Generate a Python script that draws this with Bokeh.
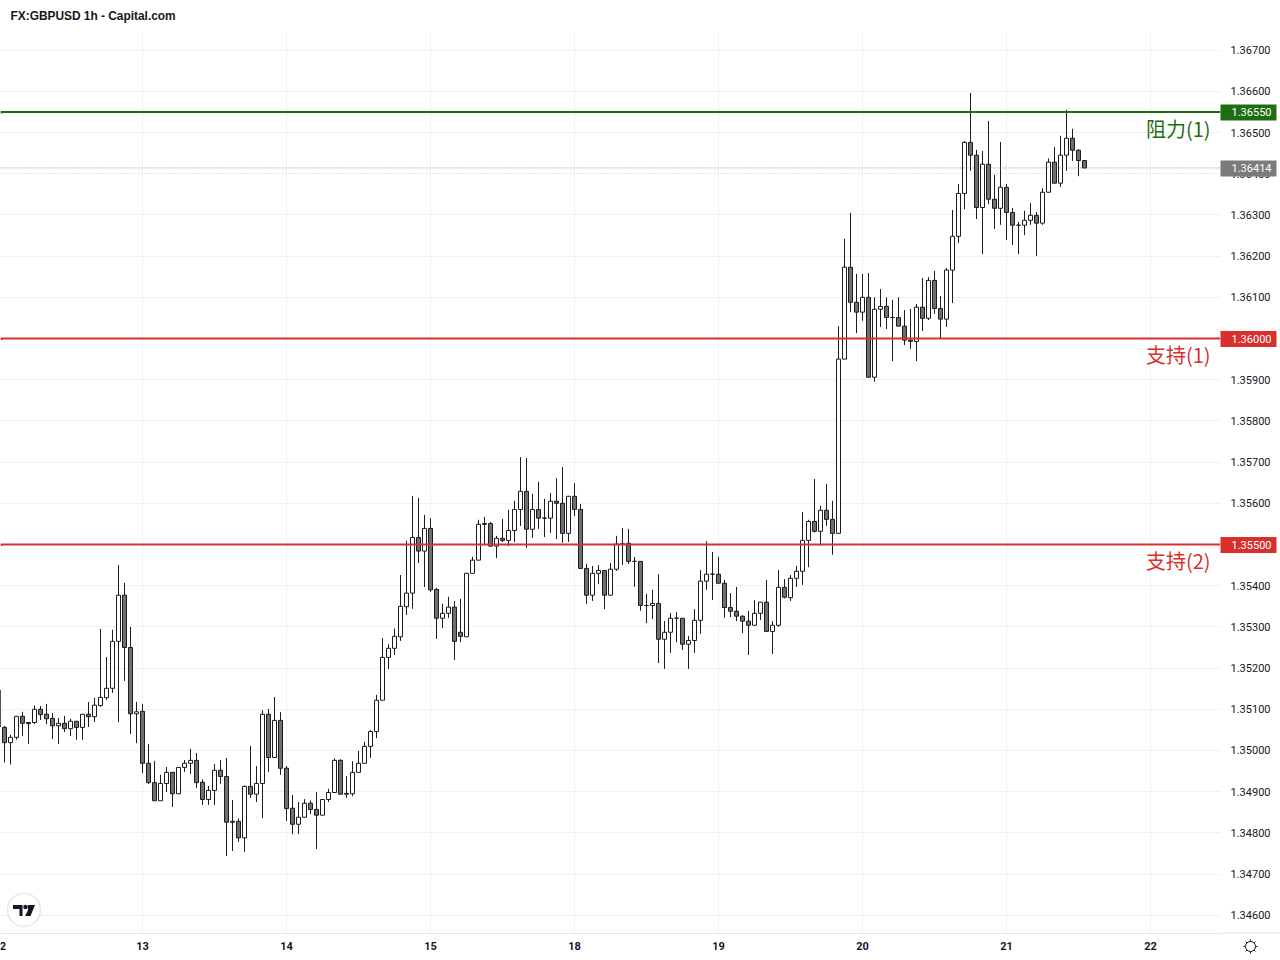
import numpy as np
from bokeh.plotting import figure
from bokeh.layouts import column
from bokeh.core.properties import value
from bokeh.models import (ColumnDataSource, FixedTicker, Span, Range1d, NumeralTickFormatter)
from bokeh.embed import file_html
from bokeh.resources import INLINE

opens = [135147,135056,135019,135032,135083,135068,135068,135100,135088,135078,
135060,135066,135053,135071,135056,135088,135082,135109,135128,135151,
135265,135377,135250,135089,135095,134969,134922,134878,134920,134947,
134895,134959,134969,134976,134923,134881,134903,134952,134937,134828,
134828,134788,134913,134894,134920,135088,134983,135073,134957,134860,
134821,134838,134872,134857,134843,134881,134898,134976,134896,134895,
134947,134969,135010,135046,135122,135226,135248,135276,135349,135382,
135517,135484,135539,135391,135321,135333,135348,135287,135276,135430,
135462,135551,135551,135496,135515,135510,135534,135585,135629,135537,
135585,135564,135564,135605,135600,135527,135617,135585,135442,135377,
135430,135437,135377,135440,135502,135503,135459,135459,135352,135352,
135357,135270,135287,135321,135321,135258,135267,135316,135411,135428,
135428,135406,135347,135338,135326,135314,135304,135333,135360,135289,
135304,135396,135371,135418,135435,135510,135556,135532,135583,135561,
135527,135950,136173,136088,136064,136100,135906,136071,136078,136051,
136051,136030,135996,135993,136076,136049,136141,136073,136047,136166,
136248,136352,136476,136445,136318,136423,136338,136316,136367,136306,
136275,136275,136287,136299,136280,136355,136428,136377,136445,136486,
136457,136432]
highs = [135147,135060,135038,135083,135094,135068,135109,135108,135113,135091,
135079,135084,135077,135071,135088,135118,135128,135295,135227,135293,
135450,135407,135300,135118,135113,135016,134975,134941,134960,134947,
134959,134977,135004,134994,134930,134914,134967,134977,134982,134880,
134835,134915,135011,134962,135098,135101,135130,135093,134962,134892,
134875,134882,134879,134899,134881,134907,134981,134979,134938,134974,
134999,135021,135050,135135,135273,135258,135296,135426,135509,135618,
135613,135572,135564,135395,135356,135373,135363,135368,135431,135470,
135560,135567,135555,135521,135562,135584,135606,135712,135710,135623,
135652,135611,135625,135661,135688,135618,135649,135598,135453,135448,
135450,135437,135455,135521,135540,135538,135470,135459,135380,135390,
135428,135314,135334,135336,135321,135278,135343,135438,135508,135482,
135470,135414,135382,135397,135328,135339,135365,135360,135414,135314,
135438,135416,135426,135448,135579,135560,135659,135594,135647,135606,
136030,136242,136305,136157,136157,136159,136100,136120,136100,136094,
136100,136069,136072,136084,136147,136149,136164,136103,136171,136312,
136375,136479,136596,136458,136455,136528,136397,136477,136375,136317,
136283,136310,136329,136307,136365,136437,136465,136492,136555,136509,
136459,136433]
lows = [135057,134971,134966,135026,135035,135016,135064,135074,135064,135028,
135016,135045,135035,135026,135026,135057,135069,135106,135123,135140,
135069,135169,135040,135018,134945,134919,134878,134878,134899,134863,
134895,134948,134943,134909,134868,134868,134868,134919,134744,134756,
134778,134754,134885,134875,134836,134948,134983,134941,134829,134797,
134797,134838,134846,134761,134843,134875,134898,134894,134885,134889,
134947,134969,134982,135030,135122,135198,135232,135266,135329,135344,
135455,135397,135385,135271,135297,135322,135220,135263,135276,135430,
135462,135500,135496,135467,135506,135496,135506,135545,135492,135516,
135538,135518,135528,135513,135504,135506,135569,135442,135356,135363,
135404,135343,135377,135436,135450,135453,135397,135339,135309,135319,
135212,135198,135237,135263,135244,135198,135237,135283,135390,135365,
135406,135322,135324,135314,135285,135232,135304,135317,135289,135234,
135300,135369,135363,135397,135402,135445,135529,135497,135545,135475,
135527,135950,136064,136013,136043,135906,135895,136028,136023,135945,
136030,135984,135975,135945,136018,136045,136060,135999,136028,136086,
136232,136314,136407,136290,136205,136326,136266,136276,136239,136227,
136205,136251,136276,136200,136276,136355,136377,136368,136407,136431,
136394,136413]
closes = [135057,135019,135032,135083,135066,135065,135100,135087,135077,135060,
135066,135053,135071,135056,135088,135082,135110,135129,135151,135265,
135377,135250,135089,135094,134969,134922,134878,134920,134947,134895,
134959,134969,134976,134922,134881,134903,134952,134937,134826,134826,
134788,134913,134894,134920,135088,134983,135073,134957,134859,134821,
134838,134872,134857,134843,134881,134898,134976,134894,134894,134947,
134969,135010,135046,135122,135226,135248,135277,135350,135382,135517,
135484,135539,135390,135321,135333,135348,135265,135277,135430,135462,
135549,135549,135496,135515,135510,135534,135585,135629,135537,135585,
135564,135564,135605,135600,135527,135617,135585,135442,135377,135430,
135437,135377,135440,135501,135501,135459,135459,135352,135352,135357,
135270,135287,135321,135321,135258,135267,135316,135411,135428,135428,
135406,135347,135338,135326,135314,135304,135333,135360,135289,135304,
135396,135372,135418,135435,135510,135556,135532,135583,135561,135527,
135950,136173,136088,136064,136100,135906,136071,136078,136051,136051,
136030,135996,135993,136076,136049,136141,136073,136047,136166,136248,
136352,136476,136445,136318,136423,136338,136316,136367,136306,136275,
136275,136287,136299,136280,136355,136428,136377,136445,136486,136457,
136432,136414]

price_ticks = [1.346,1.347,1.348,1.349,1.350,1.351,1.352,1.353,1.354,1.355,1.356,
               1.357,1.358,1.359,1.360,1.361,1.362,1.363,1.364,1.365,1.366,1.367]
day_ticks = [23,47,71,95,119,143,167,191]
day_labels = ["13","14","15","18","19","20","21","22"]
resistance = 1.3655
support_1 = 1.36
support_2 = 1.355
last_price = 1.36414

GREEN = "#1e6e10"
RED = "#d9302e"
GREY = "#7b7b7b"
INK = "#1c1c1c"
GRID = "#f0f1f4"
TEXT = "#131722"

def PX(x):
    return (x - 4.5) / 6.0

def PY(y):
    return (136000 - (y - 338.5) * 2.4272) / 1e5

def ypx(price):
    return 338.5 + (1.36 - price) * 41200

n = len(opens)
idx = np.arange(-1, n - 1)
o, h, l, c = [np.array(a) / 1e5 for a in (opens, highs, lows, closes)]
src = ColumnDataSource(dict(
    x=idx, high=h, low=l,
    top=np.maximum(o, c), bottom=np.minimum(o, c),
    fill=["#ffffff" if cc >= oo else "#6f6f6f" for oo, cc in zip(opens, closes)],
))

p = figure(width=1280, height=960, output_backend="svg", toolbar_location=None,
           x_range=Range1d(PX(0.5), PX(1220.5)), y_range=Range1d(PY(933.5), PY(31.5)),
           x_axis_location="below", y_axis_location="right",
           min_border_left=0, min_border_right=60, min_border_top=31, min_border_bottom=27,
           background_fill_color="white", border_fill_color="white")
p.margin = 0
p.frame_align = False
p.outline_line_color = None

p.yaxis.ticker = FixedTicker(ticks=price_ticks)
p.xaxis.ticker = FixedTicker(ticks=day_ticks)
p.xaxis.major_label_overrides = dict(zip(day_ticks, day_labels))
p.yaxis.formatter = NumeralTickFormatter(format="0.00000")
p.yaxis.axis_line_color = None
p.yaxis.major_tick_line_color = None
p.yaxis.minor_tick_line_color = None
p.yaxis.major_label_standoff = 4
p.yaxis.major_label_text_font = "Roboto"
p.yaxis.major_label_text_font_size = "11px"
p.yaxis.major_label_text_color = TEXT
p.xaxis.axis_line_color = "#e0e3eb"
p.xaxis.major_tick_line_color = None
p.xaxis.minor_tick_line_color = None
p.xaxis.major_label_standoff = 2
p.xaxis.major_label_text_font = "Roboto"
p.xaxis.major_label_text_font_style = "bold"
p.xaxis.major_label_text_font_size = "11px"
p.xaxis.major_label_text_color = TEXT
p.grid.grid_line_color = GRID
p.grid.grid_line_width = 1

p.segment("x", "high", "x", "low", source=src, line_color=INK, line_width=1)
p.vbar(x="x", top="top", bottom="bottom", width=4 / 6, source=src,
       fill_color="fill", line_color=INK, line_width=1)

p.add_layout(Span(location=last_price, dimension="width", line_color="#777777",
                  line_width=1, line_dash="1 2"))
p.add_layout(Span(location=resistance, dimension="width", line_color=GREEN, line_width=2))
p.add_layout(Span(location=support_1, dimension="width", line_color=RED, line_width=2))
p.add_layout(Span(location=support_2, dimension="width", line_color=RED, line_width=2))

# TradingView badge
p.scatter([PX(24)], [PY(910)], size=33, marker="circle", fill_color="white",
          line_color="#e6e8ee", line_width=1.5)
for xs, ys in (
    ([13, 22.5, 22.5, 19.5, 19.5, 17, 17, 13], [905, 905, 916, 916, 909, 909, 909, 909]),
    ([28, 35, 30.5, 25, 28], [905, 905, 916, 916, 910]),
):
    p.patch([PX(v) for v in xs], [PY(v) for v in ys], fill_color=TEXT, line_color=None)
p.scatter([PX(25.5)], [PY(907)], size=4.5, marker="circle", fill_color=TEXT, line_color=None)

# Transparent pixel-space overlay for everything that lies outside the plot frame
ov = figure(width=1280, height=960, output_backend="svg", toolbar_location=None,
            x_range=Range1d(0, 1280), y_range=Range1d(960, 0),
            x_axis_type=None, y_axis_type=None,
            min_border=0, background_fill_alpha=0, border_fill_alpha=0)
ov.frame_align = False
ov.outline_line_color = None
ov.grid.visible = False
ov.margin = (-960, 0, 0, 0)

tags = [resistance, support_1, support_2, last_price]
tag_colors = [GREEN, RED, RED, GREY]
tag_y = [ypx(v) for v in tags]
ov.quad(left=1220, right=1276, top=[y - 8 for y in tag_y], bottom=[y + 8 for y in tag_y],
        fill_color=tag_colors, line_color=None)
ov.segment(x0=0, x1=2, y0=tag_y[:3], y1=tag_y[:3], line_color=tag_colors[:3], line_width=2)
ov.text(x=1231, y=tag_y, text=[f"{v:.5f}" for v in tags], text_color="white",
        text_font=value("Roboto"), text_font_size="11px", text_baseline="middle")
ov.text(x=1210, y=[128, 354, 560], text=["阻力(1)", "支持(1)", "支持(2)"],
        text_color=[GREEN, RED, RED], text_font=value("Noto Sans CJK SC"),
        text_font_size="20px", text_align="right", text_baseline="middle")
ov.text(x=[10], y=[15], text=["FX:GBPUSD 1h - Capital.com"], text_color=TEXT,
        text_font=value("Liberation Sans"), text_font_style="bold", text_font_size="11.9px",
        text_baseline="middle")
ov.text(x=[2.5], y=[945], text=["2"], text_color=TEXT, text_font=value("Roboto"),
        text_font_style="bold", text_font_size="11px", text_align="center", text_baseline="middle")

# settings gear
gear_angles = np.arange(8) * np.pi / 4
ov.segment(x0=1250 + 5 * np.cos(gear_angles), y0=946 + 5 * np.sin(gear_angles),
           x1=1250 + 7 * np.cos(gear_angles), y1=946 + 7 * np.sin(gear_angles),
           line_color=TEXT, line_width=1)
ov.scatter([1250], [946], size=10, marker="circle", fill_color="white", line_color=TEXT, line_width=1)
ov.segment(x0=[1222], y0=[932.5], x1=[1280], y1=[932.5], line_color="#e0e3eb", line_width=1)

open("out.html", "w").write(file_html(column(p, ov), INLINE))
